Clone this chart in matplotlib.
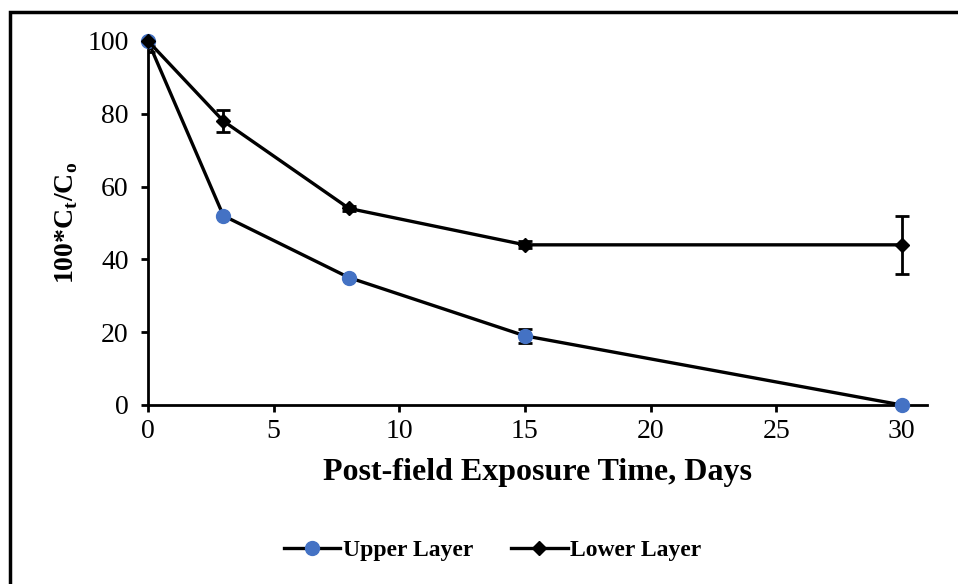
import numpy as np
import matplotlib.pyplot as plt
from matplotlib.patches import Rectangle
from matplotlib.lines import Line2D

plt.rcParams['font.family'] = ['Liberation Serif', 'DejaVu Serif']
plt.rcParams['mathtext.fontset'] = 'custom'
plt.rcParams['mathtext.rm'] = 'Liberation Serif'
plt.rcParams['mathtext.bf'] = 'Liberation Serif:bold'

days = [0, 3, 8, 15, 30]
upper = [100, 52, 35, 19, 0]
upper_err = [1.5, 0, 0, 2, 0]
lower = [100, 78, 54, 44, 44]
lower_err = [3, 3, 0.8, 1, 8]

fig = plt.figure(figsize=(9.58, 5.84), dpi=100)
ax = fig.add_axes([148/958, 1-405/584, (927-148)/958, (405-41)/584])

blue = '#4472C4'
for y, err, mk, ms, fc in [(upper, upper_err, 'o', 10, blue),
                           (lower, lower_err, 'D', 7, 'black')]:
    cont = ax.errorbar(days, y, yerr=err, color='black', lw=2.4, ecolor='black',
                       elinewidth=2, capsize=5, capthick=2, marker=mk, ms=ms,
                       mfc=fc, mec=fc, zorder=3)
    cont[0].set_clip_on(False)

ax.set_xlim(0, 31)
ax.set_ylim(0, 100)
ax.set_xticks([0, 5, 10, 15, 20, 25, 30])
ax.set_yticks([0, 20, 40, 60, 80, 100])
ax.spines['top'].set_visible(False)
ax.spines['right'].set_visible(False)
ax.spines['left'].set_linewidth(2)
ax.spines['bottom'].set_linewidth(2)
ax.tick_params(direction='out', length=5, width=2, labelsize=20)
ax.tick_params(axis='y', pad=9)
ax.tick_params(axis='x', pad=5)

ax.set_xlabel('Post-field Exposure Time, Days', fontsize=23, fontweight='bold', labelpad=10)
ax.set_ylabel(r'100*C$_\mathbf{t}$/C$_\mathbf{o}$', fontsize=20, fontweight='bold', labelpad=5)

handles = [Line2D([], [], color='black', lw=2.4, marker='o', ms=10, mfc=blue, mec=blue),
           Line2D([], [], color='black', lw=2.4, marker='D', ms=7, mfc='black', mec='black')]
fig.legend(handles, ['Upper Layer', 'Lower Layer'], loc='center',
           bbox_to_anchor=(0.514, 1-550/584), ncol=2, frameon=False,
           prop={'weight': 'bold', 'size': 17}, handlelength=2.4, columnspacing=1.6,
           handletextpad=0.1)

fig.patches.append(Rectangle((10/958, -0.1), 1.2, (1-12/584)+0.1, transform=fig.transFigure,
                             fill=False, edgecolor='black', lw=2.5))

fig.savefig('out.png', dpi=100)
